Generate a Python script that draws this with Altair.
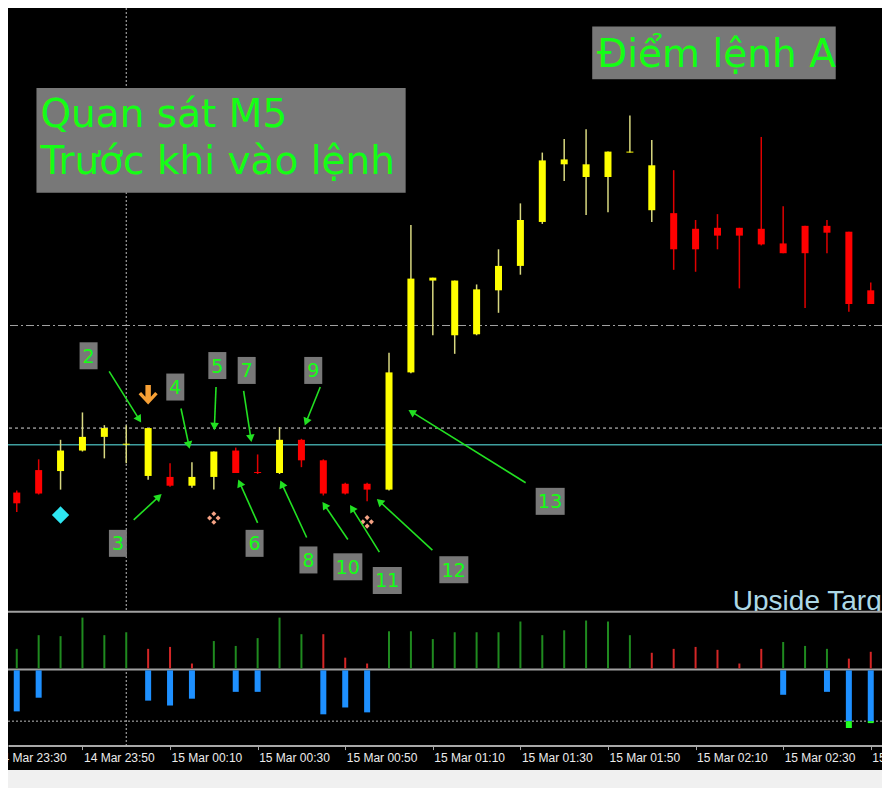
import math
import pandas as pd
import altair as alt

# ------------------------------------------------------------------ data
# M5 candles, 14 Mar 23:35 -> 15 Mar 02:50
times = ["23:35", "23:40", "23:45", "23:50", "23:55", "00:00", "00:05", "00:10",
         "00:15", "00:20", "00:25", "00:30", "00:35", "00:40", "00:45", "00:50",
         "00:55", "01:00", "01:05", "01:10", "01:15", "01:20", "01:25", "01:30",
         "01:35", "01:40", "01:45", "01:50", "01:55", "02:00", "02:05", "02:10",
         "02:15", "02:20", "02:25", "02:30", "02:35", "02:40", "02:45", "02:50"]
opens = [1.09121, 1.09144, 1.09143, 1.09164, 1.09178, 1.09170, 1.09138, 1.09137,
         1.09128, 1.09137, 1.09164, 1.09142, 1.09141, 1.09175, 1.09154, 1.09130,
         1.09130, 1.09124, 1.09244, 1.09338, 1.09282, 1.09283, 1.09328, 1.09353,
         1.09398, 1.09457, 1.09444, 1.09444, 1.09469, 1.09410, 1.09407, 1.09391,
         1.09392, 1.09392, 1.09391, 1.09376, 1.09394, 1.09394, 1.09388, 1.09328]
highs = [1.09123, 1.09155, 1.09175, 1.09203, 1.09190, 1.09190, 1.09187, 1.09151,
         1.09152, 1.09163, 1.09167, 1.09160, 1.09188, 1.09176, 1.09155, 1.09131,
         1.09131, 1.09264, 1.09395, 1.09341, 1.09338, 1.09334, 1.09370, 1.09417,
         1.09469, 1.09483, 1.09493, 1.09470, 1.09507, 1.09482, 1.09451, 1.09400,
         1.09406, 1.09392, 1.09485, 1.09414, 1.09394, 1.09400, 1.09388, 1.09336]
lows = [1.09101, 1.09119, 1.09124, 1.09163, 1.09156, 1.09151, 1.09134, 1.09127,
        1.09126, 1.09124, 1.09141, 1.09140, 1.09140, 1.09147, 1.09118, 1.09119,
        1.09112, 1.09123, 1.09243, 1.09282, 1.09263, 1.09282, 1.09305, 1.09344,
        1.09396, 1.09440, 1.09405, 1.09408, 1.09469, 1.09398, 1.09349, 1.09347,
        1.09370, 1.09330, 1.09374, 1.09366, 1.09310, 1.09366, 1.09306, 1.09314]
closes = [1.09110, 1.09120, 1.09164, 1.09178, 1.09187, 1.09171, 1.09187, 1.09128,
          1.09137, 1.09163, 1.09141, 1.09141, 1.09175, 1.09154, 1.09120, 1.09120,
          1.09124, 1.09244, 1.09340, 1.09341, 1.09338, 1.09329, 1.09353, 1.09400,
          1.09461, 1.09462, 1.09457, 1.09470, 1.09470, 1.09456, 1.09370, 1.09370,
          1.09384, 1.09384, 1.09375, 1.09366, 1.09366, 1.09387, 1.09314, 1.09314]

# upper indicator histogram (one bar per candle)
hist_vals = [20, 34, 33, 52, 34, 37, 20, 22, 5, 28, 23, 31, 52, 35, 35, 11, 5, 38, 38, 30,
             37, 37, 37, 48, 34, 39, 49, 48, 34, 16, 20, 22, 19, 5, 20, 27, 23, 20, 10, 17]
hist_up = [1, 1, 1, 1, 1, 1, 0, 0, 0, 1, 1, 1, 1, 1, 0, 0, 0, 1, 1, 1,
           1, 1, 1, 1, 1, 1, 1, 1, 1, 0, 0, 0, 0, 0, 0, 1, 1, 1, 0, 0]

# lower indicator (blue bars, negative)
blue_times = ["23:35", "23:40", "00:05", "00:10", "00:15", "00:25", "00:30",
              "00:45", "00:50", "00:55", "02:30", "02:40", "02:45", "02:50"]
blue_vals = [-42, -28, -31, -36, -29, -22, -22, -45, -38, -43, -25, -22, -52, -52]
cap_times = ["02:45", "02:50"]
cap_top = [-52, -52]
cap_bot = [-59, -54]
blue_level = -52

# horizontal lines on the price chart
level_dashdot = 1.09292
level_dashed = 1.09187
level_teal = 1.09170

# numbered callouts: label position (minutes from 15 Mar 00:00, price),
# arrow start and arrow tip
label_txt = ["2", "3", "4", "5", "6", "7", "8", "9", "10", "11", "12", "13"]
label_t = [-8.6, -1.9, 11.2, 20.8, 29.3, 27.5, 41.6, 42.7, 50.6, 59.6, 74.8, 96.8]
label_p = [1.09261, 1.09069, 1.09229, 1.09251, 1.09069, 1.09246, 1.09052, 1.09246,
           1.09045, 1.09031, 1.09042, 1.09112]
arr_t0 = [-3.9, 1.7, 12.5, 20.5, 30.0, 26.8, 41.2, 44.3, 50.6, 57.8, 69.9, 91.2]
arr_p0 = [1.09245, 1.09093, 1.09207, 1.09229, 1.09090, 1.09225, 1.09075, 1.09229,
          1.09073, 1.09060, 1.09062, 1.09131]
arr_t1 = [3.5, 8.2, 14.5, 20.1, 25.5, 28.6, 35.1, 40.7, 44.7, 51.0, 57.1, 64.3]
arr_p1 = [1.09192, 1.09120, 1.09165, 1.09184, 1.09135, 1.09172, 1.09134, 1.09189,
          1.09112, 1.09109, 1.09115, 1.09206]

# signal symbols
sell_arrow = ("00:05", 1.09221)
cyan_diamond = ("23:45", 1.09098)
salmon_marks = [("00:20", 1.09095), ("00:55", 1.09091)]

# text objects
box1 = dict(t0=-20.5, t1=63.8, p0=1.09428, p1=1.09535)
box1_lines = [("Quan sát M5", 1.09495), ("Trước khi vào lệnh", 1.09447)]
box1_text_t = -19.6
box2 = dict(t0=106.4, t1=162.0, p0=1.09544, p1=1.09598)
box2_text = ("Điểm lệnh A", 107.5, 1.09557)
upside_text = ("Upside Target", 138.5, 1.09001)

tick_minutes = [-30, -10, 10, 30, 50, 70, 90, 110, 130, 150, 170]

# ------------------------------------------------------------------ layout
W, H = 874, 762
KX = W / 890.0
KY = H / 780.0
BASE = pd.Timestamp("2024-03-15T00:00:00")
T_MIN, T_MAX = -27.0, 172.57


def hm(s):
    h, m = map(int, s.split(":"))
    v = h * 60 + m
    return v - 1440 if h >= 12 else v


def ts(minutes):
    t = BASE + pd.Timedelta(seconds=round(minutes * 60))
    return t.strftime("%Y-%m-%dT%H:%M:%SZ")


def px(minutes):
    return KX * (120.4 + 4.46 * minutes)


def py(price):
    return KY * (617 - (price - 1.09) * 1e5)


def inv_t(x):
    return (x / KX - 120.4) / 4.46


def inv_p(y):
    return 1.09 + (617 - y / KY) / 1e5


LABEL_FMT = "%d %b %H:%M"
X = alt.Scale(type="utc", domain=[ts(T_MIN), ts(T_MAX)], range=[0, W], nice=False,
              padding=0)
AXIS_Y = 755 * KY
X_AXIS = alt.Axis(
    values=[int((BASE + pd.Timedelta(minutes=m)).value // 10**6) for m in tick_minutes],
    labelExpr=f"utcFormat(datum.value, '{LABEL_FMT}')",
    labelAlign="left", labelBaseline="top",
    labelPadding=3, labelOffset=1, labelColor="#ececec", labelFont="Liberation Sans",
    labelFontSize=12, tickColor="#a8a8a8", tickSize=4, domainColor="#a8a8a8",
    domainWidth=2, offset=AXIS_Y - H, grid=False, title=None, labelOverlap=False,
    labelFlush=False, labelBound=False)

Y_MAIN = alt.Scale(domain=[1.09, 1.09617], range=[617 * KY, 0], nice=False, zero=False)
Y_HIST = alt.Scale(domain=[-1, 58], range=[677 * KY, 618 * KY], nice=False, zero=False)
Y_BLUE = alt.Scale(domain=[-77, 0], range=[755 * KY, 678 * KY], nice=False, zero=False)


def xenc(field):
    return alt.X(field, type="temporal", scale=X, axis=X_AXIS)


def ym(field):
    return alt.Y(field, type="quantitative", scale=Y_MAIN, axis=None)


# ------------------------------------------------------------------ tables
cd = pd.DataFrame({"t": [ts(hm(s)) for s in times], "o": opens, "h": highs,
                   "l": lows, "c": closes})
cd["bot"] = cd[["o", "c"]].min(axis=1)
cd["top"] = cd[["o", "c"]].max(axis=1)
cd["body"] = ["#ffff00" if c >= o else "#ff0000" for o, c in zip(opens, closes)]
cd["wick"] = ["#d8d880" if c >= o else "#e00000" for o, c in zip(opens, closes)]

hd = pd.DataFrame({"t": [ts(hm(s)) for s in times], "v": hist_vals,
                   "base": [0] * len(times),
                   "col": ["#1f8a1f" if u else "#d42626" for u in hist_up]})
bd = pd.DataFrame({"t": [ts(hm(s)) for s in blue_times], "v": blue_vals,
                   "base": [0] * len(blue_times)})
capd = pd.DataFrame({"t": [ts(hm(s)) for s in cap_times], "a": cap_top, "b": cap_bot})

levels = pd.DataFrame({"p": [level_dashdot, level_dashed, level_teal]})

# ticks that fall just left of the visible window still show a partial label
edge_ticks = pd.DataFrame({"t": [ts(m) for m in tick_minutes if m < T_MIN]})

# arrows
rows = []
for i in range(len(label_txt)):
    x0, y0 = px(arr_t0[i]), py(arr_p0[i])
    x1, y1 = px(arr_t1[i]), py(arr_p1[i])
    dx, dy = x1 - x0, y1 - y0
    L = math.hypot(dx, dy)
    ang = math.degrees(math.atan2(dx, -dy)) % 360
    hx, hy = x1 - dx / L * 4.5, y1 - dy / L * 4.5
    lx, ly = x1 - dx / L * 6, y1 - dy / L * 6
    rows.append({"t0": ts(arr_t0[i]), "p0": arr_p0[i], "t1": ts(inv_t(lx)),
                 "p1": inv_p(ly), "th": ts(inv_t(hx)), "ph": inv_p(hy), "ang": ang})
ad = pd.DataFrame(rows)

ld = pd.DataFrame({"txt": label_txt, "t": [ts(m) for m in label_t], "p": label_p})
ld1 = ld[ld["txt"].str.len() == 1]
ld2 = ld[ld["txt"].str.len() == 2]

# ------------------------------------------------------------------ layers
layers = []

# price levels
layers.append(alt.Chart(levels.iloc[[0]]).mark_rule(color="#a0a0a0", strokeWidth=1,
              strokeDash=[8, 3, 2, 3]).encode(y=ym("p")))
layers.append(alt.Chart(levels.iloc[[1]]).mark_rule(color="#d8d8d8", strokeWidth=1,
              strokeDash=[3, 3]).encode(y=ym("p")))
layers.append(alt.Chart(levels.iloc[[2]]).mark_rule(color="#3f9f9f", strokeWidth=1.5)
              .encode(y=ym("p")))

# crosshair
layers.append(alt.Chart(pd.DataFrame({"t": [ts(0)]})).mark_rule(
    color="#bdbdbd", strokeWidth=1, strokeDash=[2, 2]).encode(
    x=xenc("t"), y=alt.value(0), y2=alt.value(AXIS_Y)))

# candles
layers.append(alt.Chart(cd).mark_rule(strokeWidth=1.5).encode(
    x=xenc("t"), y=ym("l"), y2="h", color=alt.Color("wick:N", scale=None)))
layers.append(alt.Chart(cd).mark_bar(width=7).encode(
    x=xenc("t"), y=ym("bot"), y2="top", color=alt.Color("body:N", scale=None)))

# signal symbols
ARROW_PATH = ("M-0.28,-1 L0.28,-1 L0.28,0.2 L0.72,-0.3 L0.98,-0.05 L0,0.98 "
              "L-0.98,-0.05 L-0.72,-0.3 L-0.28,0.2 Z")
CLUSTER_PATH = " ".join(
    f"M{cx},{cy - 0.36} L{cx + 0.36},{cy} L{cx},{cy + 0.36} L{cx - 0.36},{cy} Z"
    for cx, cy in [(0, -0.6), (0.6, 0), (0, 0.6), (-0.6, 0)])
layers.append(alt.Chart(pd.DataFrame({"t": [ts(hm(sell_arrow[0]))], "p": [sell_arrow[1]]}))
              .mark_point(shape=ARROW_PATH, size=380, filled=True, color="#f7a035", opacity=1)
              .encode(x=xenc("t"), y=ym("p")))
layers.append(alt.Chart(pd.DataFrame({"t": [ts(hm(cyan_diamond[0]))], "p": [cyan_diamond[1]]}))
              .mark_point(shape="diamond", size=300, filled=True, color="#2ee6f2", opacity=1)
              .encode(x=xenc("t"), y=ym("p")))
layers.append(alt.Chart(pd.DataFrame({"t": [ts(hm(a)) for a, _ in salmon_marks],
                                      "p": [b for _, b in salmon_marks]}))
              .mark_point(shape=CLUSTER_PATH, size=200, filled=True, color="#f4a284", opacity=1)
              .encode(x=xenc("t"), y=ym("p")))

# text boxes
layers.append(alt.Chart(pd.DataFrame([{"t0": ts(box1["t0"]), "t1": ts(box1["t1"]),
                                       "p0": box1["p0"], "p1": box1["p1"]},
                                      {"t0": ts(box2["t0"]), "t1": ts(box2["t1"]),
                                       "p0": box2["p0"], "p1": box2["p1"]}]))
              .mark_rect(color="#787878").encode(x=xenc("t0"), x2="t1", y=ym("p0"), y2="p1"))
txt_rows = [{"s": s, "t": ts(box1_text_t), "p": p} for s, p in box1_lines]
txt_rows.append({"s": box2_text[0], "t": ts(box2_text[1]), "p": box2_text[2]})
layers.append(alt.Chart(pd.DataFrame(txt_rows)).mark_text(
    align="left", baseline="alphabetic", font="DejaVu Sans", fontSize=39, color="#14ff14")
    .encode(x=xenc("t"), y=ym("p"), text="s:N"))

# callout arrows
layers.append(alt.Chart(ad).mark_rule(color="#22e022", strokeWidth=1.6).encode(
    x=xenc("t0"), x2="t1", y=ym("p0"), y2="p1"))
layers.append(alt.Chart(ad).mark_point(shape="triangle-up", size=75, filled=True,
                                       color="#22e022", opacity=1).encode(
    x=xenc("th"), y=ym("ph"), angle=alt.Angle("ang:Q", scale=None)))

# callout labels
layers.append(alt.Chart(ld1).mark_rect(width=18, height=27, color="#787878").encode(
    x=xenc("t"), y=ym("p")))
layers.append(alt.Chart(ld2).mark_rect(width=29, height=27, color="#787878").encode(
    x=xenc("t"), y=ym("p")))
layers.append(alt.Chart(ld).mark_text(font="DejaVu Sans", fontSize=19, color="#14ff14",
                                      baseline="middle", align="center", dy=1).encode(
    x=xenc("t"), y=ym("p"), text="txt:N"))

# upside target text
layers.append(alt.Chart(pd.DataFrame({"s": [upside_text[0]], "t": [ts(upside_text[1])],
                                      "p": [upside_text[2]]}))
              .mark_text(align="left", baseline="alphabetic", font="Liberation Sans",
                         fontSize=28, color="#add8e6")
              .encode(x=xenc("t"), y=ym("p"), text="s:N"))

# indicator panel 1
layers.append(alt.Chart(pd.DataFrame({"a": [58], "b": [-1]})).mark_rect(color="#000000")
              .encode(x=alt.value(0), x2=alt.value(W),
                      y=alt.Y("a:Q", scale=Y_HIST, axis=None), y2="b"))
layers.append(alt.Chart(pd.DataFrame({"v": [58, -1]})).mark_rule(color="#a0a0a0", strokeWidth=2)
              .encode(y=alt.Y("v:Q", scale=Y_HIST, axis=None)))
layers.append(alt.Chart(hd).mark_rule(strokeWidth=2).encode(
    x=xenc("t"), y=alt.Y("v:Q", scale=Y_HIST, axis=None), y2="base",
    color=alt.Color("col:N", scale=None)))

# indicator panel 2
layers.append(alt.Chart(pd.DataFrame({"v": [blue_level]})).mark_rule(
    color="#bdbdbd", strokeWidth=1, strokeDash=[2, 2]).encode(
    y=alt.Y("v:Q", scale=Y_BLUE, axis=None)))
layers.append(alt.Chart(bd).mark_bar(width=6, color="#1e90ff").encode(
    x=xenc("t"), y=alt.Y("v:Q", scale=Y_BLUE, axis=None), y2="base"))
layers.append(alt.Chart(capd).mark_bar(width=6, color="#22ff22").encode(
    x=xenc("t"), y=alt.Y("a:Q", scale=Y_BLUE, axis=None), y2="b"))

# partial time label at the left edge (tick itself lies just outside the window)
layers.append(alt.Chart(edge_ticks).transform_calculate(
    lab=f"utcFormat(toDate(datum.t), '{LABEL_FMT}')").mark_text(
    align="left", baseline="top", font="Liberation Sans", fontSize=12, color="#ececec",
    dx=1).encode(x=xenc("t"), y=alt.value(AXIS_Y + 7), text="lab:N"))

chart = alt.layer(*layers).resolve_scale(y="independent").properties(
    width=W, height=H,
    autosize=alt.AutoSizeParams(type="none"),
    padding={"left": 0, "top": 0, "right": 0, "bottom": 18},
    background="#f0f0f0",
).configure_view(fill="#000000", stroke=None)

chart.save("out.html", embed_options={"renderer": "svg", "actions": False})
